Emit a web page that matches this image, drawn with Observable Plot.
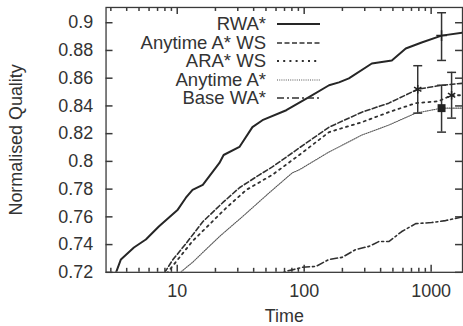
<!DOCTYPE html>
<html><head><meta charset="utf-8">
<script src="https://cdn.jsdelivr.net/npm/d3@7"></script>
<script src="https://cdn.jsdelivr.net/npm/@observablehq/plot@0.6"></script>
<style>
html,body{margin:0;padding:0;background:#fff;overflow:hidden;}
#wrap{position:relative;width:463px;height:326px;overflow:hidden;}
#legend{position:absolute;left:0;top:0;width:463px;height:120px;font-family:"Liberation Sans",Arial,sans-serif;font-size:18.5px;color:#333;}
.lt{position:absolute;left:0;width:266px;text-align:right;line-height:18px;white-space:nowrap;}
.ls{position:absolute;left:277px;width:44px;height:10px;}
</style></head>
<body><div id="wrap"><div id="legend"></div></div>
<script>
// ---- data ----
const seriesNames = ["RWA*", "Anytime A* WS", "ARA* WS", "Anytime A*", "Base WA*"];

const timeRWA = [2.9, 3.3, 3.6, 4.56, 5.66, 7.16, 10.1, 11.7, 13.2, 15.9, 21.5, 23.2, 30.9, 39.1, 46.9, 72.3, 109, 157, 188, 225, 341, 490, 631, 842, 1208, 1766];
const qualRWA = [0.715, 0.72, 0.7293, 0.7379, 0.7437, 0.753, 0.7652, 0.7738, 0.7795, 0.7831, 0.7989, 0.8046, 0.8104, 0.8247, 0.8297, 0.8369, 0.8463, 0.8549, 0.857, 0.8599, 0.8706, 0.8728, 0.8814, 0.8857, 0.8907, 0.8929];

const timeAnyWS = [7.5, 7.98, 9.22, 11.9, 15.9, 22.8, 30.9, 44.4, 56.1, 80.5, 91.4, 157, 285, 464, 756, 784, 1208, 1766];
const qualAnyWS = [0.715, 0.72, 0.729, 0.7415, 0.7565, 0.7702, 0.781, 0.7903, 0.796, 0.8061, 0.8097, 0.8247, 0.8355, 0.842, 0.8513, 0.852, 0.8549, 0.8563];

const timeARAWS = [7.9, 8.4, 13.2, 24.4, 35.1, 56.1, 91.4, 157, 285, 464, 756, 1146, 1449, 1766];
const qualARAWS = [0.715, 0.72, 0.7425, 0.7666, 0.7795, 0.7903, 0.8046, 0.8211, 0.8283, 0.8355, 0.842, 0.8434, 0.8477, 0.8477];

const timeAny = [10, 10.6, 13.2, 21.5, 32.7, 53.1, 80.5, 91.4, 157, 285, 464, 756, 1208, 1766];
const qualAny = [0.715, 0.72, 0.7272, 0.7458, 0.7602, 0.7774, 0.7917, 0.7939, 0.8068, 0.819, 0.8262, 0.8348, 0.8384, 0.8384];

const timeBase = [60, 69, 72.2, 96.4, 124, 157, 199, 256, 324, 388, 464, 587, 756, 1009, 1300, 1766];
const qualBase = [0.715, 0.72, 0.7207, 0.7236, 0.7243, 0.7293, 0.7308, 0.7365, 0.7387, 0.7422, 0.7422, 0.7494, 0.7551, 0.7559, 0.7573, 0.76];

const errSeries = ["RWA*", "Anytime A* WS", "Anytime A*", "ARA* WS"];
const errTime = [1208, 784, 1208, 1449];
const errMid  = [0.8907, 0.852, 0.8384, 0.8477];
const errLow  = [0.8728, 0.8348, 0.8211, 0.8312];
const errHigh = [0.9072, 0.869, 0.8549, 0.8642];

const xDomain = [2.75, 1766];
const yDomain = [0.72, 0.911];
const yTicks = [0.72, 0.74, 0.76, 0.78, 0.8, 0.82, 0.84, 0.86, 0.88, 0.9];
const xMajor = [10, 100, 1000];
const xMinor = [3, 4, 5, 6, 7, 8, 9, 20, 30, 40, 50, 60, 70, 80, 90, 200, 300, 400, 500, 600, 700, 800, 900];

// ---- layout / styling ----
const W = 465, H = 326, mL = 106, mR = 1, mT = 7, mB = 53;
const frameH = H - mT - mB;
const majorLen = 7, minorLen = 4;

const styles = {
  "RWA*":          {stroke: "#262626", width: 2,   dash: null},
  "Anytime A* WS": {stroke: "#303030", width: 1.6, dash: "5,2.5"},
  "ARA* WS":       {stroke: "#303030", width: 1.8, dash: "2,4.2"},
  "Anytime A*":    {stroke: "#555",    width: 1.1, dash: "1,1.2"},
  "Base WA*":      {stroke: "#303030", width: 1.6, dash: "7,3,2,3"}
};
const markerSym = {"RWA*": "plus", "Anytime A* WS": "asterisk", "Anytime A*": "square", "ARA* WS": "asterisk"};

const seriesData = [
  [seriesNames[0], timeRWA, qualRWA],
  [seriesNames[1], timeAnyWS, qualAnyWS],
  [seriesNames[2], timeARAWS, qualARAWS],
  [seriesNames[3], timeAny, qualAny],
  [seriesNames[4], timeBase, qualBase]
];

const errData = errSeries.map((s, i) => ({s, t: errTime[i], m: errMid[i], lo: errLow[i], hi: errHigh[i]}));

const sym = (fn) => ({draw(ctx, size) { const l = Math.sqrt(size / Math.PI); fn(ctx, l); }});
const capSym = sym((c, l) => { c.moveTo(-l, 0); c.lineTo(l, 0); });

const frameColor = "#3a3a3a";
const fmtY = d3.format(".2~f");
const tk = {stroke: frameColor, strokeWidth: 1.5};

const marks = [
  Plot.frame({stroke: frameColor, strokeWidth: 1.3}),
  Plot.axisY(yTicks, {tickSize: 0, tickPadding: 13, tickFormat: fmtY, label: null, fill: "#333"}),
  Plot.axisX(xMajor, {tickSize: 0, tickPadding: 12, tickFormat: d3.format("d"), label: null, fill: "#333"}),
  // inward ticks on all four sides (gnuplot style)
  Plot.ruleY(yTicks, {y: d => d, x1: xDomain[0], x2: xDomain[0], insetRight: -majorLen, ...tk}),
  Plot.ruleY(yTicks, {y: d => d, x1: xDomain[1], x2: xDomain[1], insetLeft: -majorLen, ...tk}),
  Plot.ruleX(xMajor, {x: d => d, y1: yDomain[1], y2: yDomain[0], insetTop: frameH - majorLen, ...tk}),
  Plot.ruleX(xMajor, {x: d => d, y1: yDomain[1], y2: yDomain[0], insetBottom: frameH - majorLen, ...tk}),
  Plot.ruleX(xMinor, {x: d => d, y1: yDomain[1], y2: yDomain[0], insetTop: frameH - minorLen, ...tk}),
  Plot.ruleX(xMinor, {x: d => d, y1: yDomain[1], y2: yDomain[0], insetBottom: frameH - minorLen, ...tk}),
  Plot.text(["Normalised Quality"], {frameAnchor: "left", dx: -90.5, rotate: -90, textAnchor: "middle", lineAnchor: "middle", fontSize: 18, fill: "#333"}),
  Plot.text(["Time"], {frameAnchor: "bottom", dy: 44, textAnchor: "middle", lineAnchor: "middle", fontSize: 18, fill: "#333"})
];

for (const [name, ts, qs] of seriesData) {
  const st = styles[name];
  marks.push(Plot.line(ts.map((t, i) => ({t, q: qs[i]})), {
    x: "t", y: "q", stroke: st.stroke, strokeWidth: st.width,
    strokeDasharray: st.dash, clip: true
  }));
}

for (const e of errData) {
  marks.push(Plot.ruleX([e], {x: "t", y1: "lo", y2: "hi", stroke: "#333", strokeWidth: 1.5}));
  marks.push(Plot.dot([e], {x: "t", y: "lo", symbol: capSym, r: 4.5, stroke: "#333", strokeWidth: 1.5, fill: "none"}));
  marks.push(Plot.dot([e], {x: "t", y: "hi", symbol: capSym, r: 4.5, stroke: "#333", strokeWidth: 1.5, fill: "none"}));
  const s = markerSym[e.s];
  if (s === "square") {
    marks.push(Plot.dot([e], {x: "t", y: "m", symbol: "square", r: 4.5, fill: "#222", stroke: "none"}));
  } else {
    marks.push(Plot.dot([e], {x: "t", y: "m", symbol: s, r: s === "plus" ? 3.5 : 4, stroke: "#222", strokeWidth: 1.5, fill: "none"}));
  }
}

const chart = Plot.plot({
  width: W, height: H,
  marginLeft: mL, marginRight: mR, marginTop: mT, marginBottom: mB,
  style: {fontFamily: "'Liberation Sans', Arial, sans-serif", fontSize: "18px", color: "#333", background: "#fff"},
  x: {type: "log", domain: xDomain},
  y: {domain: yDomain},
  marks
});
const wrap = document.getElementById("wrap");
wrap.insertBefore(chart, wrap.firstChild);
chart.style.position = "absolute";
chart.style.left = "0"; chart.style.top = "0";

// ---- legend (inside the plot, top) ----
const legend = document.getElementById("legend");
seriesNames.forEach((name, i) => {
  const yc = 24 + i * 18.6;
  const st = styles[name];
  const t = document.createElement("div");
  t.className = "lt";
  t.style.top = (yc - 9) + "px";
  t.textContent = name;
  legend.appendChild(t);
  const svg = document.createElementNS("http://www.w3.org/2000/svg", "svg");
  svg.setAttribute("class", "ls");
  svg.setAttribute("width", 44); svg.setAttribute("height", 10);
  svg.style.top = (yc - 5) + "px";
  const ln = document.createElementNS("http://www.w3.org/2000/svg", "line");
  ln.setAttribute("x1", 0); ln.setAttribute("x2", 43); ln.setAttribute("y1", 5); ln.setAttribute("y2", 5);
  ln.setAttribute("stroke", st.stroke); ln.setAttribute("stroke-width", st.width);
  if (st.dash) ln.setAttribute("stroke-dasharray", st.dash);
  svg.appendChild(ln);
  legend.appendChild(svg);
});
</script>
</body></html>
